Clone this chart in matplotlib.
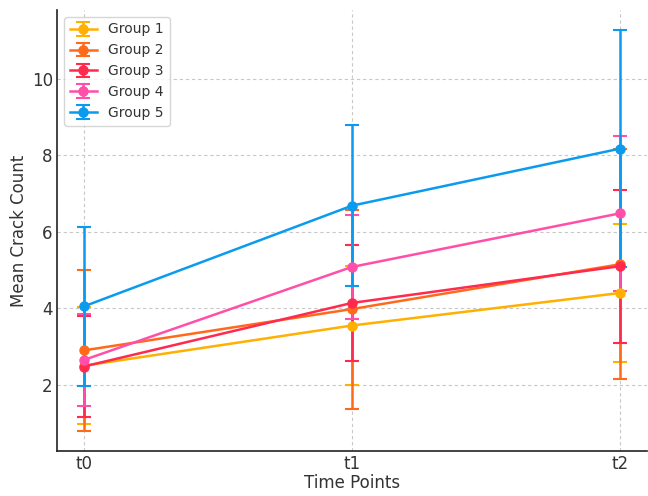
import matplotlib
matplotlib.use("Agg")
import matplotlib.pyplot as plt

time_points = ["t0", "t1", "t2"]
groups = ["Group 1", "Group 2", "Group 3", "Group 4", "Group 5"]
means = [
    [2.50, 3.55, 4.40],
    [2.90, 3.98, 5.15],
    [2.48, 4.14, 5.10],
    [2.65, 5.08, 6.48],
    [4.05, 6.68, 8.17],
]
errors = [
    [1.53, 1.55, 1.80],
    [2.10, 2.60, 3.00],
    [1.31, 1.52, 2.00],
    [1.19, 1.37, 2.03],
    [2.08, 2.10, 3.10],
]
colors = ["#FFB000", "#FF6A1A", "#FF2A4E", "#FF4FA8", "#0A9BEF"]

fig, ax = plt.subplots(figsize=(6.48, 4.96), dpi=100)
x = list(range(len(time_points)))
for name, m, e, c in zip(groups, means, errors, colors):
    ax.errorbar(x, m, yerr=e, label=name, color=c, marker="o", markersize=6.5,
                linewidth=1.8, capsize=5, elinewidth=1.8, capthick=1.5)

ax.set_xticks(x)
ax.set_xticklabels(time_points)
ax.set_xlabel("Time Points", fontsize=12, color="#333333", labelpad=1)
ax.set_ylabel("Mean Crack Count", fontsize=12, color="#333333", labelpad=3)
ax.tick_params(axis="both", labelsize=12, labelcolor="#333333", length=0, pad=3)
ax.grid(True, linestyle=(0, (3, 2.5)), color="#c8c8c8", linewidth=0.8)
ax.set_axisbelow(True)
for s in ["top", "right"]:
    ax.spines[s].set_visible(False)
for s in ["left", "bottom"]:
    ax.spines[s].set_color("#222222")
    ax.spines[s].set_linewidth(1.2)
leg = ax.legend(loc="upper left", fontsize=10, frameon=True)
for t in leg.get_texts():
    t.set_color("#333333")
fig.subplots_adjust(left=0.088, right=0.998, bottom=0.091, top=0.98)
fig.savefig("out.png", dpi=100)
